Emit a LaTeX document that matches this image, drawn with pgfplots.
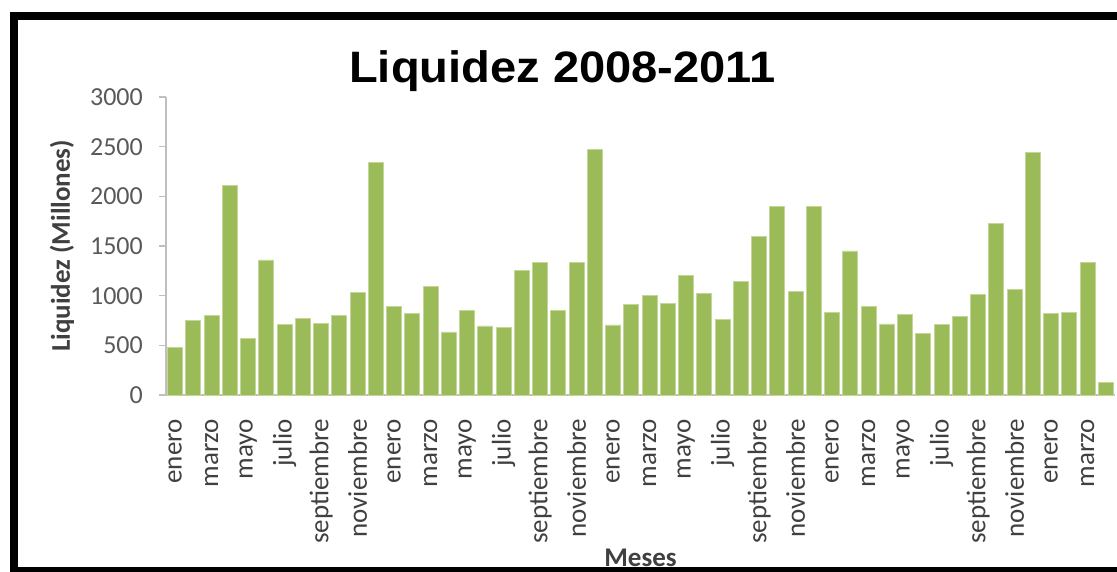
\documentclass[border=0pt]{standalone}
\usepackage{pgfplots}
\pgfplotsset{compat=1.18}
\usepackage{pgfplotstable}
\usepackage{fontspec}
\setmainfont{Carlito}
\newfontfamily\titlefont{Liberation Sans}[FakeStretch=1.07]
\definecolor{bargreen}{HTML}{9BBB59}
\definecolor{baredge}{HTML}{C4D79B}
\definecolor{axgray}{HTML}{BFBFBF}
\definecolor{tickgray}{HTML}{595959}
\definecolor{xlabgray}{HTML}{404040}

\pgfplotstableread{
x y
0 480
1 750
2 800
3 2110
4 570
5 1360
6 710
7 775
8 720
9 800
10 1030
11 2345
12 895
13 820
14 1090
15 635
16 855
17 695
18 680
19 1250
20 1335
21 855
22 1335
23 2475
24 705
25 915
26 1000
27 920
28 1200
29 1020
30 765
31 1145
32 1600
33 1895
34 1040
35 1895
36 830
37 1450
38 890
39 715
40 810
41 620
42 710
43 790
44 1015
45 1725
46 1065
47 2440
48 820
49 830
50 1335
51 125
}\liquidez

\begin{document}
\begin{tikzpicture}
\fill[black] (10bp,0bp) rectangle (17.5bp,560bp);
\fill[black] (10bp,552bp) rectangle (1117bp,560bp);
\fill[black] (10bp,0bp) rectangle (1117bp,4.5bp);
\node[anchor=base, font=\titlefont\bfseries\fontsize{44bp}{50bp}\selectfont] at (562.5bp,489bp) {Liquidez 2008-2011};
\begin{axis}[
  at={(166bp,177bp)}, anchor=south west,
  scale only axis, width=949bp, height=298bp,
  xmin=-0.5, xmax=51.5, ymin=0, ymax=3000,
  axis x line=bottom, axis y line=left,
  axis line style={axgray, line width=1.2bp, -},
  ytick={0,500,...,3000},
  xtick={0,2,...,50},
  xticklabels={enero,marzo,mayo,julio,septiembre,noviembre,enero,marzo,mayo,julio,septiembre,noviembre,enero,marzo,mayo,julio,septiembre,noviembre,enero,marzo,mayo,julio,septiembre,noviembre,enero,marzo},
  x tick style={draw=none},
  y tick style={axgray, line width=1.2bp},
  tick align=outside,
  major tick length=7bp,
  /pgf/number format/assume math mode=true,
  /pgf/number format/1000 sep={},
  yticklabel style={font=\fontsize{26bp}{30bp}\selectfont, text=tickgray, inner sep=0pt, anchor=east, xshift=-16bp},
  xticklabel style={font=\fontsize{27bp}{30bp}\selectfont, text=xlabgray, rotate=90, anchor=east, inner sep=0pt, xshift=-17bp},
  every axis y label/.style={at={(axis description cs:-0.1096,0.5)}, rotate=90, anchor=center},
  every axis x label/.style={at={(axis description cs:0.5,-0.574)}, anchor=base},
  ylabel={\bfseries Liquidez (Millones)},
  xlabel={\bfseries Meses},
  label style={font=\fontsize{27bp}{30bp}\selectfont, text=xlabgray},
  clip=false,
]
\addplot[ybar, bar width=15bp, fill=bargreen, draw=baredge, line width=0.8bp] table[x=x, y=y] {\liquidez};
\end{axis}
\pgfresetboundingbox
\useasboundingbox (0,0) rectangle (1117bp,572bp);
\end{tikzpicture}
\end{document}
